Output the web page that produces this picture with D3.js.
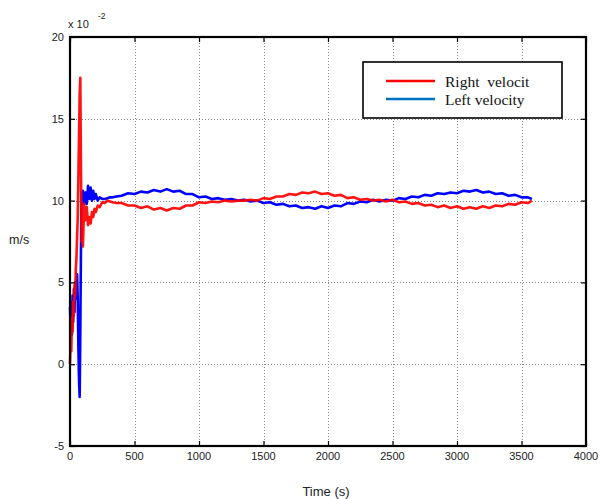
<!DOCTYPE html>
<html>
<head>
<meta charset="utf-8">
<script src="https://cdn.jsdelivr.net/npm/d3@7"></script>
<style>
  body { margin: 0; background: #fff; }
  svg { display: block; }
  .tick-lbl { font-family: Arial, "Liberation Sans", sans-serif; font-size: 11px; fill: #222; }
  .leg-txt { font-family: "Liberation Serif", "Times New Roman", serif; font-size: 15.5px; fill: #111; white-space: pre; }
</style>
</head>
<body>
<div id="chart"></div>
<script>
// time samples (s)
var times = [0,5,10,15,20,25,30,35,40,45,50,55,60,65,70,75,80,85,90,95,100,110,120,130,140,150,160,170,180,190,200,215,230,250,270,290,310,330,360,
  400,450,500,550,600,650,700,750,800,850,900,950,1000,1050,1100,1150,1200,1250,1300,1350,1400,1450,1500,1550,1600,1650,1700,1750,1800,1850,1900,1950,
  2000,2050,2100,2150,2200,2250,2300,2350,2400,2450,2500,2550,2600,2650,2700,2750,2800,2850,2900,2950,3000,3050,3100,3150,3200,3250,3300,3350,3400,3450,3500,3550,3580];

// right wheel velocity (x 10^-2 m/s)
var rightVel = [0,1.5,0.8,2.8,2.0,3.8,3.0,4.8,4.2,5.8,6.5,7.8,9.0,11.5,14.0,16.5,17.5,12.0,7.5,8.8,7.2,9.8,8.8,9.6,8.5,9.0,8.6,9.3,9.0,9.5,9.3,9.7,9.6,9.9,9.85,10.0,9.95,9.9,9.85,
  9.85,9.7,9.7,9.55,9.65,9.45,9.55,9.4,9.55,9.5,9.7,9.7,9.9,9.85,9.95,9.9,10.0,9.95,10.0,10.0,10.05,10.0,10.15,10.1,10.25,10.25,10.4,10.35,10.5,10.45,10.55,10.4,
  10.45,10.3,10.35,10.15,10.2,10.05,10.1,10.0,10.05,9.95,10.05,9.9,9.95,9.8,9.85,9.7,9.75,9.6,9.7,9.55,9.65,9.5,9.6,9.5,9.65,9.55,9.7,9.65,9.8,9.75,9.9,9.85,10.0];

// left wheel velocity (x 10^-2 m/s)
var leftVel = [3.5,2.2,3.8,1.8,4.2,2.6,4.6,3.2,5.0,4.0,4.8,5.5,4.0,1.0,-1.0,-2.0,2.0,7.0,10.5,10.2,10.6,9.8,10.5,9.8,10.9,10.1,10.8,10.0,10.6,10.1,10.4,10.0,10.2,10.1,10.1,10.15,10.2,10.2,10.25,
  10.3,10.45,10.4,10.55,10.5,10.65,10.55,10.7,10.55,10.6,10.4,10.4,10.2,10.25,10.1,10.15,10.05,10.1,10.0,10.05,9.95,10.0,9.85,9.9,9.75,9.8,9.65,9.7,9.55,9.6,9.5,9.65,
  9.55,9.7,9.65,9.85,9.8,9.95,9.9,10.05,9.95,10.05,10.0,10.15,10.1,10.25,10.2,10.35,10.3,10.45,10.4,10.5,10.45,10.6,10.55,10.65,10.5,10.55,10.4,10.45,10.3,10.35,10.2,10.2,10.1];

var xTicks = [0,500,1000,1500,2000,2500,3000,3500,4000];
var yTicks = [-5,0,5,10,15,20];
var seriesNames = ["Right  velocit", "Left velocity"];

var W = 601, H = 499;
var L = 70, R = 586, T = 37, B = 446;

var svg = d3.select("#chart").append("svg").attr("width", W).attr("height", H);
svg.append("rect").attr("width", W).attr("height", H).attr("fill", "#fff");

var x = d3.scaleLinear().domain([0, 4000]).range([L, R]);
var y = d3.scaleLinear().domain([-5, 20]).range([B, T]);

// dotted grid
var grid = svg.append("g").attr("stroke", "#8a8a8a").attr("stroke-width", 1).attr("stroke-dasharray", "1,2");
grid.selectAll(".gx").data(xTicks.slice(1, -1)).enter().append("line")
  .attr("x1", d => Math.round(x(d)) + 0.5).attr("x2", d => Math.round(x(d)) + 0.5)
  .attr("y1", T).attr("y2", B);
grid.selectAll(".gy").data(yTicks.slice(1, -1)).enter().append("line")
  .attr("y1", d => Math.round(y(d)) + 0.5).attr("y2", d => Math.round(y(d)) + 0.5)
  .attr("x1", L).attr("x2", R);

// data lines
var line = d3.line().x((d, i) => x(times[i])).y(d => y(d));
svg.append("path").datum(leftVel).attr("d", line)
  .attr("fill", "none").attr("stroke", "#0000ff").attr("stroke-width", 2.6).attr("stroke-linejoin", "round");
svg.append("path").datum(rightVel).attr("d", line)
  .attr("fill", "none").attr("stroke", "#ff0000").attr("stroke-width", 2.6).attr("stroke-linejoin", "round").attr("opacity", 0.92);

// axes with inward ticks on all four sides
var axB = d3.axisBottom(x).tickValues(xTicks).tickSize(-5).tickFormat("");
var axT = d3.axisTop(x).tickValues(xTicks).tickSize(-5).tickFormat("");
var axL = d3.axisLeft(y).tickValues(yTicks).tickSize(-5).tickFormat("");
var axR = d3.axisRight(y).tickValues(yTicks).tickSize(-5).tickFormat("");
[[axB, "translate(0," + B + ")"], [axT, "translate(0," + T + ")"], [axL, "translate(" + L + ",0)"], [axR, "translate(" + R + ",0)"]].forEach(function(a) {
  var g = svg.append("g").attr("transform", a[1]).call(a[0]);
  g.select(".domain").remove();
  g.selectAll("line").attr("stroke", "#000").attr("stroke-width", 1.2);
});

svg.append("rect").attr("x", L).attr("y", T).attr("width", R - L).attr("height", B - T)
  .attr("fill", "none").attr("stroke", "#000").attr("stroke-width", 2.2);

// tick labels
svg.selectAll(".xl").data(xTicks).enter().append("text").attr("class", "tick-lbl")
  .attr("x", d => x(d)).attr("y", 460).attr("text-anchor", "middle").text(d => d);
svg.selectAll(".yl").data(yTicks).enter().append("text").attr("class", "tick-lbl")
  .attr("x", 64).attr("y", d => y(d) + 4).attr("text-anchor", "end").text(d => d);

// exponent
svg.append("text").attr("class", "tick-lbl").attr("x", 68).attr("y", 28).text("x 10");
svg.append("text").attr("class", "tick-lbl").attr("x", 98).attr("y", 19).style("font-size", "8.5px").text("-2");

// axis titles
svg.append("text").attr("x", 9).attr("y", 244)
  .style("font-family", "Arial, 'Liberation Sans', sans-serif").style("font-size", "12.5px").attr("fill", "#222").text("m/s");
svg.append("text").attr("x", (L + R) / 2 - 2).attr("y", 496).attr("text-anchor", "middle")
  .style("font-family", "Arial, 'Liberation Sans', sans-serif").style("font-size", "13px").attr("fill", "#222").text("Time (s)");

// legend
var leg = svg.append("g");
leg.append("rect").attr("x", 363).attr("y", 62).attr("width", 199).attr("height", 56)
  .attr("fill", "#fff").attr("stroke", "#000").attr("stroke-width", 1.6);
var legColors = ["#ff0000", "#0070c0"];
seriesNames.forEach(function(n, i) {
  var yy = 81 + i * 18;
  leg.append("line").attr("x1", 386).attr("x2", 435).attr("y1", yy).attr("y2", yy)
    .attr("stroke", legColors[i]).attr("stroke-width", 2.5);
  leg.append("text").attr("class", "leg-txt").attr("x", 445).attr("y", yy + 5.5).text(n);
});
</script>
</body>
</html>
